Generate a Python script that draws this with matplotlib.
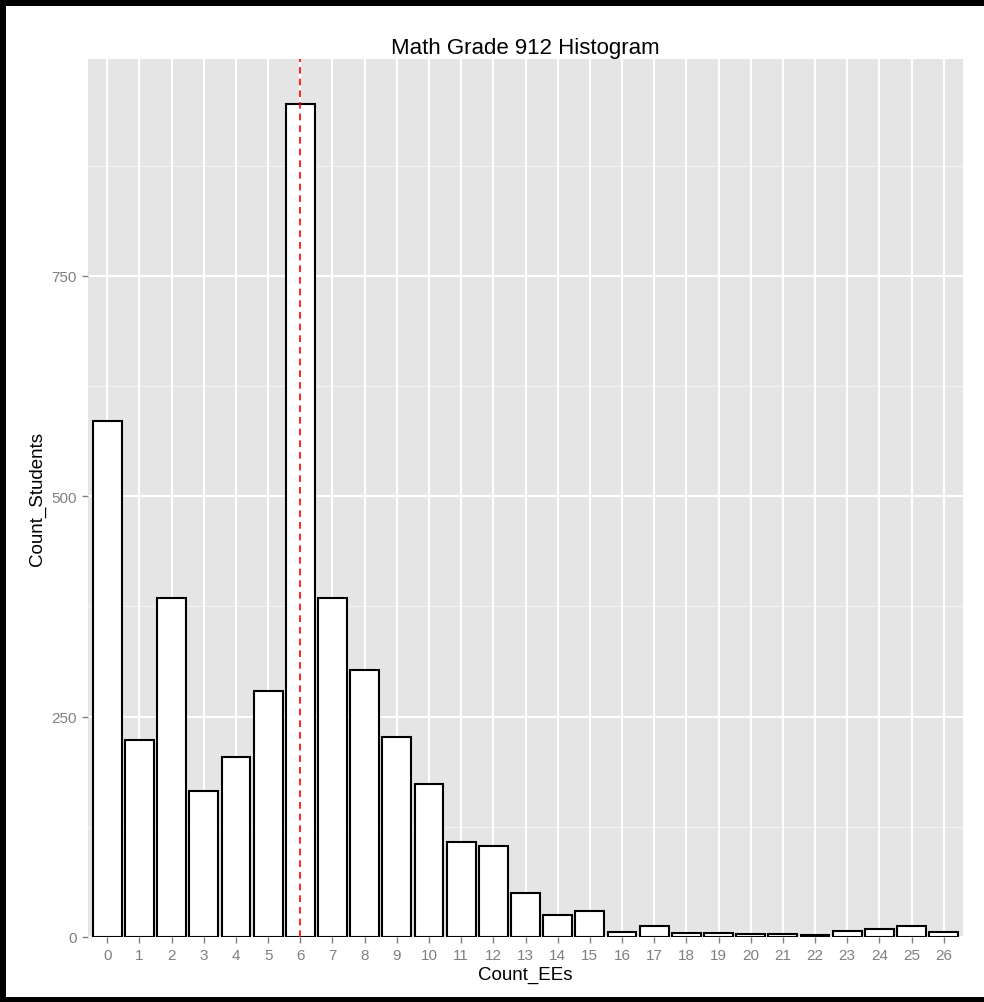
"""Math Grade 912 Histogram - ggplot style bar chart"""
import matplotlib
matplotlib.use('Agg')
import matplotlib.pyplot as plt
from matplotlib.patches import Rectangle

plt.rcParams['font.family'] = ['Liberation Sans', 'DejaVu Sans']

# Data
count_ees = list(range(27))
count_students = [585, 224, 384, 166, 204, 279, 945, 385, 303, 227,
                  173, 108, 103, 50, 25, 29, 6, 13, 4, 4,
                  3, 3, 2, 7, 9, 13, 6]
mean_line = 6
y_breaks = [0, 250, 500, 750]
y_minor = [125, 375, 625, 875]

# Colors (old ggplot2 theme_grey)
PANEL = '#E5E5E5'
GRID_MAJOR = '#FFFFFF'
GRID_MINOR = '#F2F2F2'
AXIS_GREY = '#7F7F7F'

W, H = 984, 1003
fig = plt.figure(figsize=(W / 100, H / 100), dpi=100, facecolor='white')

ax = fig.add_axes([88 / W, 1 - 938 / H, (963 - 88) / W, (938 - 60) / H])
ax.set_facecolor(PANEL)
ax.set_xlim(-0.6, 26.6)
ax.set_ylim(0, 996)
for s in ax.spines.values():
    s.set_visible(False)

# Grid
for y in y_minor:
    ax.axhline(y, color=GRID_MINOR, linewidth=0.9, zorder=0.5)
for y in y_breaks:
    ax.axhline(y, color=GRID_MAJOR, linewidth=1.5, zorder=0.6)
for x in count_ees:
    ax.axvline(x, color=GRID_MAJOR, linewidth=1.5, zorder=0.6)

# Bars
ax.bar(count_ees, count_students, width=0.9, color='white',
       edgecolor='black', linewidth=1.5, zorder=2)

# Red dashed reference line
ax.axvline(mean_line, color='#FF0000', linewidth=1.2, linestyle=(0, (4, 3)),
           zorder=3)

# Ticks
ax.set_xticks(count_ees)
ax.set_xticklabels([str(v) for v in count_ees])
ax.set_yticks(y_breaks)
ax.set_yticklabels([str(v) for v in y_breaks])
ax.tick_params(axis='both', colors=AXIS_GREY, labelcolor=AXIS_GREY,
               labelsize=11, length=4, width=1, pad=4)

ax.set_xlabel('Count_EEs', fontsize=13.5, color='black', labelpad=3)
ax.set_ylabel('Count_Students', fontsize=13.5, color='black', labelpad=4)
ax.set_title('Math Grade 912 Histogram', fontsize=16, color='black', pad=4)

# Black frame around the screenshot
frame_kw = dict(transform=fig.transFigure, facecolor='black',
                edgecolor='none', zorder=10)
fig.patches.append(Rectangle((0, 1 - 7 / H), 1, 7 / H, **frame_kw))
fig.patches.append(Rectangle((0, 0), 6 / W, 1, **frame_kw))
fig.patches.append(Rectangle((0, 0), 1, 5 / H, **frame_kw))

fig.savefig('out.png', dpi=100, facecolor='white')
plt.close()
